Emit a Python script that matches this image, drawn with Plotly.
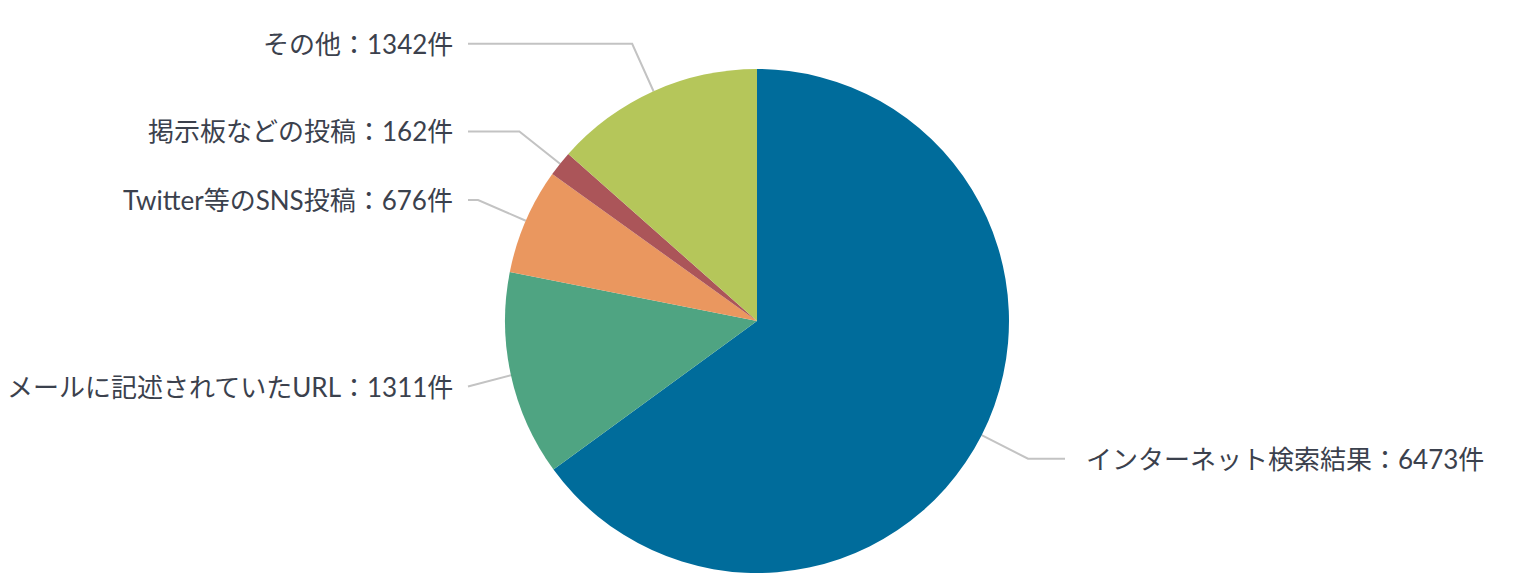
import math
import plotly.graph_objects as go

labels = ["インターネット検索結果", "メールに記述されていたURL", "Twitter等のSNS投稿", "掲示板などの投稿", "その他"]
values = [6473, 1311, 676, 162, 1342]
colors = ["#006c9b", "#4fa482", "#ea975f", "#ab5559", "#b5c65a"]

W, H = 1521, 588
CX, CY, R = 757, 321, 252
LINE_OUT = 52       # radial length of connector beyond the rim
LEFT_END, RIGHT_END = 468, 1065
TEXT_GAP = 13
FONT = "Lato, 'Noto Sans CJK JP', sans-serif"
TEXT_COLOR = "#3b414d"

fig = go.Figure()
fig.add_trace(go.Pie(
    labels=labels, values=values, sort=False, direction="clockwise", rotation=0,
    marker=dict(colors=colors, line=dict(color="white", width=0)),
    textinfo="none", hoverinfo="label+value", showlegend=False,
    domain=dict(x=[(CX - R) / W, (CX + R) / W], y=[1 - (CY + R) / H, 1 - (CY - R) / H]),
))

total = sum(values)
cum = 0
annotations = []
for lab, v in zip(labels, values):
    mid = (cum + v / 2) / total * 2 * math.pi
    cum += v
    sx, sy = math.sin(mid), -math.cos(mid)
    x0, y0 = CX + R * sx, CY + R * sy
    x1, y1 = CX + (R + LINE_OUT) * sx, CY + (R + LINE_OUT) * sy
    if sx < 0:
        xe = LEFT_END
        if x1 < xe:
            x1 = xe
        tx, anchor = xe - TEXT_GAP, "right"
    else:
        xe = RIGHT_END
        if x1 > xe:
            x1 = xe
        tx, anchor = xe + TEXT_GAP + 6, "left"
    fig.add_trace(go.Scatter(
        x=[x0, x1, xe], y=[y0, y1, y1], mode="lines",
        line=dict(color="#c3c3c3", width=2), hoverinfo="skip", showlegend=False,
        xaxis="x", yaxis="y",
    ))
    annotations.append(dict(
        x=tx, y=y1, xref="x", yref="y", text=f"{lab}：{v}件", showarrow=False,
        xanchor=anchor, yanchor="middle",
        font=dict(family=FONT, size=26, color=TEXT_COLOR),
    ))

fig.update_layout(
    width=W, height=H, margin=dict(l=0, r=0, t=0, b=0),
    paper_bgcolor="white", plot_bgcolor="rgba(0,0,0,0)",
    xaxis=dict(range=[0, W], visible=False, domain=[0, 1], fixedrange=True),
    yaxis=dict(range=[H, 0], visible=False, domain=[0, 1], fixedrange=True),
    annotations=annotations,
)
fig.write_html("out.html", config={"displayModeBar": False},
               post_script="document.body.style.margin='0px';")
